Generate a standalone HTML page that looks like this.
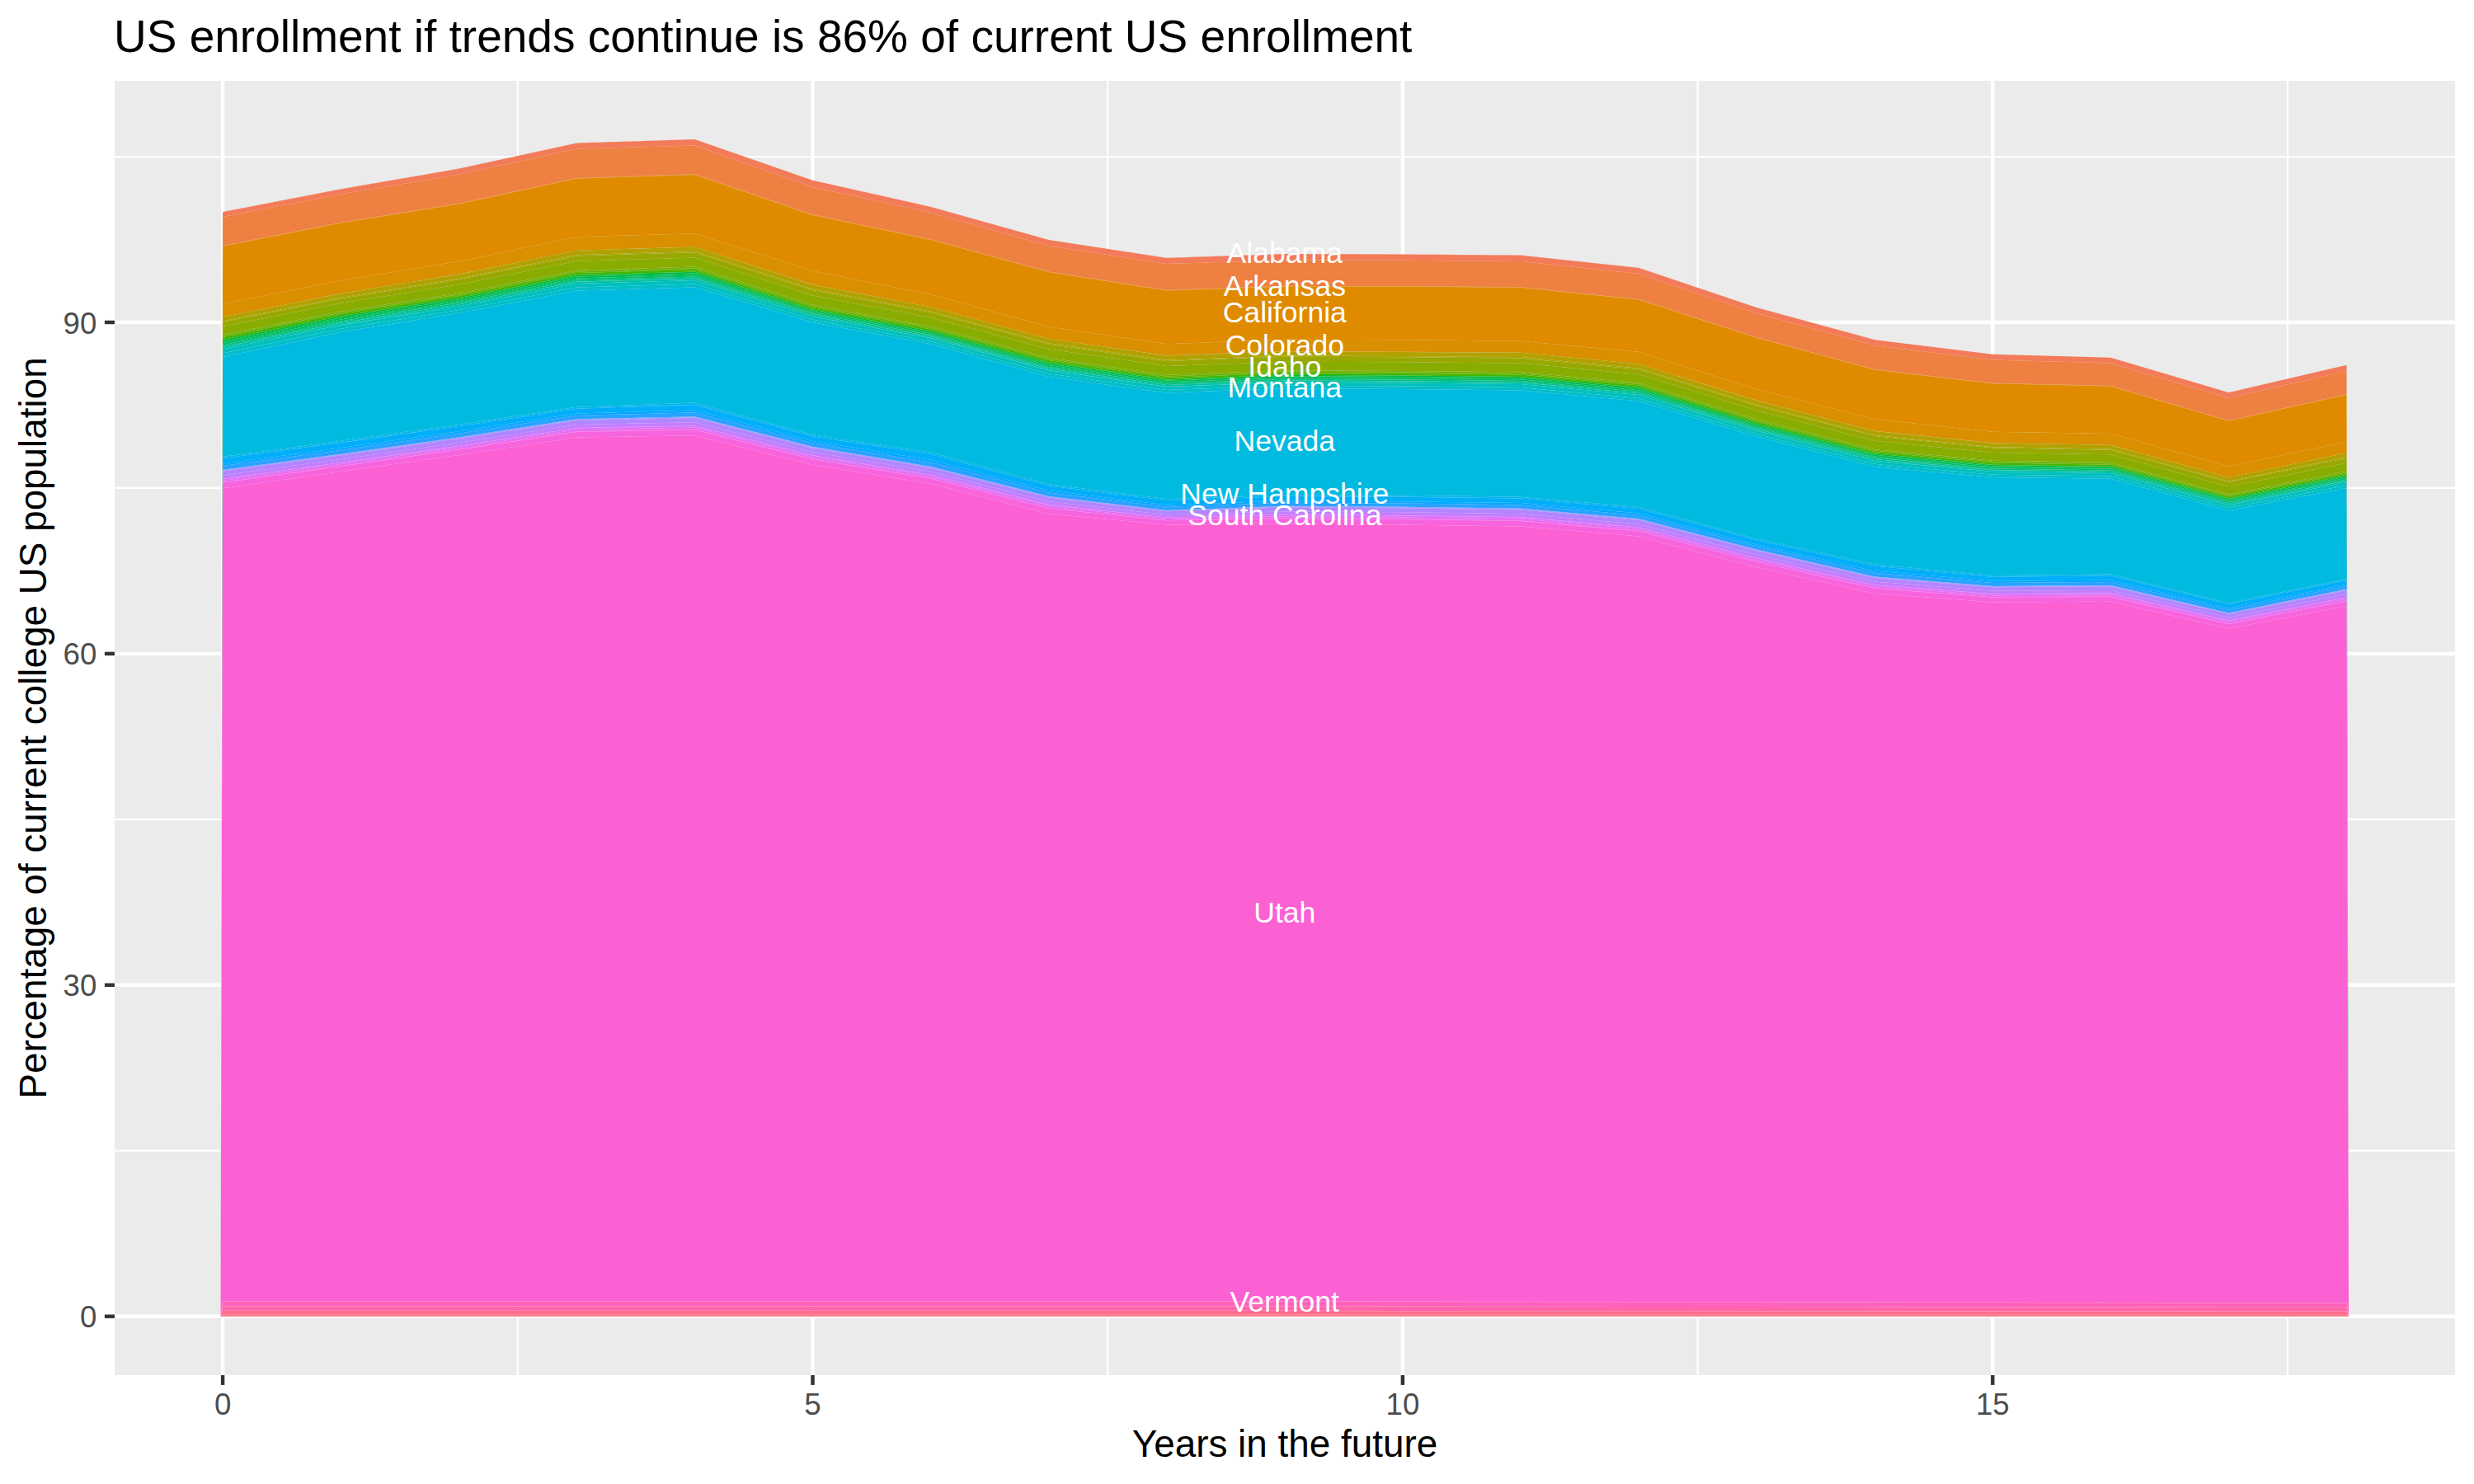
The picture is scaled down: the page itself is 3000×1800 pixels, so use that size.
<!DOCTYPE html>
<html lang="en"><head><meta charset="utf-8"><title>US enrollment if trends continue</title>
<style>
html,body{margin:0;padding:0;background:#fff;}
body{width:3000px;height:1800px;overflow:hidden;}
svg{display:block;}
text{font-family:"Liberation Sans",Arial,Helvetica,sans-serif;}
.tk{font-size:36.67px;fill:#4D4D4D;}
.ax{font-size:45.83px;fill:#000;}
.ti{font-size:55px;fill:#000;}
.lb{font-size:35.57px;fill:#fff;text-anchor:middle;}
</style></head><body>
<svg width="3000" height="1800" viewBox="0 0 3000 1800">
<rect x="0" y="0" width="3000" height="1800" fill="#FFFFFF"/>
<rect x="139" y="98" width="2838" height="1570" fill="#EBEBEB"/>
<g stroke="#FFFFFF" fill="none">
<line x1="139" x2="2977" y1="1395.75" y2="1395.75" stroke-width="2.22"/>
<line x1="139" x2="2977" y1="993.84" y2="993.84" stroke-width="2.22"/>
<line x1="139" x2="2977" y1="591.93" y2="591.93" stroke-width="2.22"/>
<line x1="139" x2="2977" y1="190.02" y2="190.02" stroke-width="2.22"/>
<line y1="98" y2="1668" x1="627.80" x2="627.80" stroke-width="2.22"/>
<line y1="98" y2="1668" x1="1343.20" x2="1343.20" stroke-width="2.22"/>
<line y1="98" y2="1668" x1="2058.60" x2="2058.60" stroke-width="2.22"/>
<line y1="98" y2="1668" x1="2774.00" x2="2774.00" stroke-width="2.22"/>
<line x1="139" x2="2977" y1="1596.70" y2="1596.70" stroke-width="4.45"/>
<line x1="139" x2="2977" y1="1194.79" y2="1194.79" stroke-width="4.45"/>
<line x1="139" x2="2977" y1="792.88" y2="792.88" stroke-width="4.45"/>
<line x1="139" x2="2977" y1="390.97" y2="390.97" stroke-width="4.45"/>
<line y1="98" y2="1668" x1="270.10" x2="270.10" stroke-width="4.45"/>
<line y1="98" y2="1668" x1="985.50" x2="985.50" stroke-width="4.45"/>
<line y1="98" y2="1668" x1="1700.90" x2="1700.90" stroke-width="4.45"/>
<line y1="98" y2="1668" x1="2416.30" x2="2416.30" stroke-width="4.45"/>
</g>
<g stroke="none">
<polygon fill="#F8766D" points="267.5,1596.7 270.1,257.0 413.2,229.3 556.3,204.6 699.3,173.5 842.4,169.0 985.5,218.7 1128.6,250.8 1271.7,290.9 1414.7,312.8 1557.8,308.0 1700.9,308.4 1844.0,309.6 1987.1,324.8 2130.1,373.0 2273.2,412.1 2416.3,429.7 2559.4,433.7 2702.5,476.1 2845.5,442.7 2848.1,1596.7 2845.5,442.8 2702.5,476.2 2559.4,433.8 2416.3,429.8 2273.2,412.2 2130.1,373.1 1987.1,324.9 1844.0,309.7 1700.9,308.5 1557.8,308.1 1414.7,312.9 1271.7,291.0 1128.6,250.9 985.5,218.8 842.4,169.1 699.3,173.6 556.3,204.7 413.2,229.4 270.1,257.1"/>
<polygon fill="#F37B59" points="267.5,1596.7 270.1,257.1 413.2,229.4 556.3,204.7 699.3,173.6 842.4,169.1 985.5,218.8 1128.6,250.9 1271.7,291.0 1414.7,312.9 1557.8,308.1 1700.9,308.5 1844.0,309.7 1987.1,324.9 2130.1,373.1 2273.2,412.2 2416.3,429.8 2559.4,433.8 2702.5,476.2 2845.5,442.8 2848.1,1596.7 2845.5,450.0 2702.5,482.8 2559.4,440.6 2416.3,436.4 2273.2,419.1 2130.1,380.0 1987.1,331.9 1844.0,317.0 1700.9,315.8 1557.8,315.6 1414.7,320.0 1271.7,298.2 1128.6,258.0 985.5,226.9 842.4,176.5 699.3,180.6 556.3,211.7 413.2,235.5 270.1,263.0"/>
<polygon fill="#EE8042" points="267.5,1596.7 270.1,263.0 413.2,235.5 556.3,211.7 699.3,180.6 842.4,176.5 985.5,226.9 1128.6,258.0 1271.7,298.2 1414.7,320.0 1557.8,315.6 1700.9,315.8 1844.0,317.0 1987.1,331.9 2130.1,380.0 2273.2,419.1 2416.3,436.4 2559.4,440.6 2702.5,482.8 2845.5,450.0 2848.1,1596.7 2845.5,478.3 2702.5,510.2 2559.4,468.0 2416.3,464.7 2273.2,448.0 2130.1,409.2 1987.1,362.9 1844.0,348.3 1700.9,347.1 1557.8,346.9 1414.7,352.0 1271.7,329.4 1128.6,290.3 985.5,260.3 842.4,211.3 699.3,215.9 556.3,246.8 413.2,270.0 270.1,298.1"/>
<polygon fill="#E7851E" points="267.5,1596.7 270.1,298.1 413.2,270.0 556.3,246.8 699.3,215.9 842.4,211.3 985.5,260.3 1128.6,290.3 1271.7,329.4 1414.7,352.0 1557.8,346.9 1700.9,347.1 1844.0,348.3 1987.1,362.9 2130.1,409.2 2273.2,448.0 2416.3,464.7 2559.4,468.0 2702.5,510.2 2845.5,478.3 2848.1,1596.7 2845.5,478.8 2702.5,510.7 2559.4,468.5 2416.3,465.2 2273.2,448.5 2130.1,409.7 1987.1,363.4 1844.0,348.8 1700.9,347.6 1557.8,347.4 1414.7,352.6 1271.7,329.9 1128.6,290.9 985.5,260.9 842.4,211.9 699.3,216.5 556.3,247.4 413.2,270.6 270.1,298.7"/>
<polygon fill="#E08A00" points="267.5,1596.7 270.1,298.7 413.2,270.6 556.3,247.4 699.3,216.5 842.4,211.9 985.5,260.9 1128.6,290.9 1271.7,329.9 1414.7,352.6 1557.8,347.4 1700.9,347.6 1844.0,348.8 1987.1,363.4 2130.1,409.7 2273.2,448.5 2416.3,465.2 2559.4,468.5 2702.5,510.7 2845.5,478.8 2848.1,1596.7 2845.5,535.8 2702.5,565.5 2559.4,526.1 2416.3,523.7 2273.2,508.5 2130.1,472.1 1987.1,426.8 1844.0,413.7 1700.9,412.3 1557.8,411.7 1414.7,417.3 1271.7,396.3 1128.6,357.0 985.5,328.6 842.4,283.3 699.3,287.3 556.3,317.0 413.2,340.2 270.1,368.5"/>
<polygon fill="#D98F00" points="267.5,1596.7 270.1,368.5 413.2,340.2 556.3,317.0 699.3,287.3 842.4,283.3 985.5,328.6 1128.6,357.0 1271.7,396.3 1414.7,417.3 1557.8,411.7 1700.9,412.3 1844.0,413.7 1987.1,426.8 2130.1,472.1 2273.2,508.5 2416.3,523.7 2559.4,526.1 2702.5,565.5 2845.5,535.8 2848.1,1596.7 2845.5,549.5 2702.5,578.9 2559.4,539.8 2416.3,537.3 2273.2,522.8 2130.1,485.8 1987.1,441.4 1844.0,427.7 1700.9,426.8 1557.8,426.2 1414.7,431.3 1271.7,410.9 1128.6,372.4 985.5,345.2 842.4,299.4 699.3,303.7 556.3,332.6 413.2,356.1 270.1,384.4"/>
<polygon fill="#D09400" points="267.5,1596.7 270.1,384.4 413.2,356.1 556.3,332.6 699.3,303.7 842.4,299.4 985.5,345.2 1128.6,372.4 1271.7,410.9 1414.7,431.3 1557.8,426.2 1700.9,426.8 1844.0,427.7 1987.1,441.4 2130.1,485.8 2273.2,522.8 2416.3,537.3 2559.4,539.8 2702.5,578.9 2845.5,549.5 2848.1,1596.7 2845.5,549.5 2702.5,578.9 2559.4,539.8 2416.3,537.3 2273.2,522.8 2130.1,485.8 1987.1,441.4 1844.0,427.7 1700.9,426.8 1557.8,426.2 1414.7,431.3 1271.7,410.9 1128.6,372.4 985.5,345.3 842.4,299.4 699.3,303.7 556.3,332.6 413.2,356.1 270.1,384.4"/>
<polygon fill="#C79800" points="267.5,1596.7 270.1,384.4 413.2,356.1 556.3,332.6 699.3,303.7 842.4,299.4 985.5,345.3 1128.6,372.4 1271.7,410.9 1414.7,431.3 1557.8,426.2 1700.9,426.8 1844.0,427.7 1987.1,441.4 2130.1,485.8 2273.2,522.8 2416.3,537.3 2559.4,539.8 2702.5,578.9 2845.5,549.5 2848.1,1596.7 2845.5,549.6 2702.5,579.0 2559.4,539.9 2416.3,537.4 2273.2,522.9 2130.1,485.9 1987.1,441.5 1844.0,427.8 1700.9,426.9 1557.8,426.3 1414.7,431.4 1271.7,411.0 1128.6,372.5 985.5,345.3 842.4,299.5 699.3,303.8 556.3,332.7 413.2,356.2 270.1,384.5"/>
<polygon fill="#BD9D00" points="267.5,1596.7 270.1,384.5 413.2,356.2 556.3,332.7 699.3,303.8 842.4,299.5 985.5,345.3 1128.6,372.5 1271.7,411.0 1414.7,431.4 1557.8,426.3 1700.9,426.9 1844.0,427.8 1987.1,441.5 2130.1,485.9 2273.2,522.9 2416.3,537.4 2559.4,539.9 2702.5,579.0 2845.5,549.6 2848.1,1596.7 2845.5,549.6 2702.5,579.0 2559.4,539.9 2416.3,537.4 2273.2,522.9 2130.1,485.9 1987.1,441.5 1844.0,427.8 1700.9,426.9 1557.8,426.3 1414.7,431.4 1271.7,411.0 1128.6,372.5 985.5,345.4 842.4,299.5 699.3,303.8 556.3,332.7 413.2,356.2 270.1,384.5"/>
<polygon fill="#B2A100" points="267.5,1596.7 270.1,384.5 413.2,356.2 556.3,332.7 699.3,303.8 842.4,299.5 985.5,345.4 1128.6,372.5 1271.7,411.0 1414.7,431.4 1557.8,426.3 1700.9,426.9 1844.0,427.8 1987.1,441.5 2130.1,485.9 2273.2,522.9 2416.3,537.4 2559.4,539.9 2702.5,579.0 2845.5,549.6 2848.1,1596.7 2845.5,554.6 2702.5,583.7 2559.4,544.6 2416.3,542.2 2273.2,527.9 2130.1,491.0 1987.1,446.7 1844.0,433.1 1700.9,432.1 1557.8,431.5 1414.7,436.7 1271.7,416.2 1128.6,377.8 985.5,350.8 842.4,304.9 699.3,309.2 556.3,337.9 413.2,361.1 270.1,389.4"/>
<polygon fill="#A5A500" points="267.5,1596.7 270.1,389.4 413.2,361.1 556.3,337.9 699.3,309.2 842.4,304.9 985.5,350.8 1128.6,377.8 1271.7,416.2 1414.7,436.7 1557.8,431.5 1700.9,432.1 1844.0,433.1 1987.1,446.7 2130.1,491.0 2273.2,527.9 2416.3,542.2 2559.4,544.6 2702.5,583.7 2845.5,554.6 2848.1,1596.7 2845.5,555.7 2702.5,584.8 2559.4,545.7 2416.3,543.3 2273.2,529.1 2130.1,492.2 1987.1,447.9 1844.0,434.4 1700.9,433.3 1557.8,432.7 1414.7,437.9 1271.7,417.4 1128.6,379.1 985.5,352.1 842.4,306.2 699.3,310.5 556.3,339.1 413.2,362.2 270.1,390.5"/>
<polygon fill="#98A800" points="267.5,1596.7 270.1,390.5 413.2,362.2 556.3,339.1 699.3,310.5 842.4,306.2 985.5,352.1 1128.6,379.1 1271.7,417.4 1414.7,437.9 1557.8,432.7 1700.9,433.3 1844.0,434.4 1987.1,447.9 2130.1,492.2 2273.2,529.1 2416.3,543.3 2559.4,545.7 2702.5,584.8 2845.5,555.7 2848.1,1596.7 2845.5,561.5 2702.5,590.2 2559.4,551.2 2416.3,548.9 2273.2,534.8 2130.1,498.0 1987.1,453.9 1844.0,440.5 1700.9,439.3 1557.8,438.7 1414.7,444.0 1271.7,423.4 1128.6,385.2 985.5,358.5 842.4,312.5 699.3,316.8 556.3,345.2 413.2,367.8 270.1,396.1"/>
<polygon fill="#89AC00" points="267.5,1596.7 270.1,396.1 413.2,367.8 556.3,345.2 699.3,316.8 842.4,312.5 985.5,358.5 1128.6,385.2 1271.7,423.4 1414.7,444.0 1557.8,438.7 1700.9,439.3 1844.0,440.5 1987.1,453.9 2130.1,498.0 2273.2,534.8 2416.3,548.9 2559.4,551.2 2702.5,590.2 2845.5,561.5 2848.1,1596.7 2845.5,571.6 2702.5,599.7 2559.4,560.8 2416.3,558.7 2273.2,545.0 2130.1,508.3 1987.1,464.5 1844.0,451.3 1700.9,449.9 1557.8,449.3 1414.7,454.8 1271.7,434.0 1128.6,396.0 985.5,369.7 842.4,323.6 699.3,327.8 556.3,355.7 413.2,377.8 270.1,406.1"/>
<polygon fill="#77AF00" points="267.5,1596.7 270.1,406.1 413.2,377.8 556.3,355.7 699.3,327.8 842.4,323.6 985.5,369.7 1128.6,396.0 1271.7,434.0 1414.7,454.8 1557.8,449.3 1700.9,449.9 1844.0,451.3 1987.1,464.5 2130.1,508.3 2273.2,545.0 2416.3,558.7 2559.4,560.8 2702.5,599.7 2845.5,571.6 2848.1,1596.7 2845.5,573.1 2702.5,601.1 2559.4,562.3 2416.3,560.1 2273.2,546.5 2130.1,509.9 1987.1,466.0 1844.0,452.9 1700.9,451.4 1557.8,450.8 1414.7,456.4 1271.7,435.5 1128.6,397.6 985.5,371.3 842.4,325.3 699.3,329.5 556.3,357.3 413.2,379.2 270.1,407.5"/>
<polygon fill="#62B200" points="267.5,1596.7 270.1,407.5 413.2,379.2 556.3,357.3 699.3,329.5 842.4,325.3 985.5,371.3 1128.6,397.6 1271.7,435.5 1414.7,456.4 1557.8,450.8 1700.9,451.4 1844.0,452.9 1987.1,466.0 2130.1,509.9 2273.2,546.5 2416.3,560.1 2559.4,562.3 2702.5,601.1 2845.5,573.1 2848.1,1596.7 2845.5,574.6 2702.5,602.5 2559.4,563.7 2416.3,561.6 2273.2,548.0 2130.1,511.4 1987.1,467.6 1844.0,454.5 1700.9,453.0 1557.8,452.4 1414.7,458.0 1271.7,437.1 1128.6,399.2 985.5,373.0 842.4,326.9 699.3,331.1 556.3,358.9 413.2,380.7 270.1,409.0"/>
<polygon fill="#45B500" points="267.5,1596.7 270.1,409.0 413.2,380.7 556.3,358.9 699.3,331.1 842.4,326.9 985.5,373.0 1128.6,399.2 1271.7,437.1 1414.7,458.0 1557.8,452.4 1700.9,453.0 1844.0,454.5 1987.1,467.6 2130.1,511.4 2273.2,548.0 2416.3,561.6 2559.4,563.7 2702.5,602.5 2845.5,574.6 2848.1,1596.7 2845.5,576.8 2702.5,604.6 2559.4,565.8 2416.3,563.8 2273.2,550.3 2130.1,513.7 1987.1,470.0 1844.0,456.9 1700.9,455.4 1557.8,454.8 1414.7,460.3 1271.7,439.6 1128.6,401.5 985.5,375.3 842.4,329.6 699.3,333.8 556.3,361.5 413.2,383.5 270.1,412.0"/>
<polygon fill="#00B709" points="267.5,1596.7 270.1,412.0 413.2,383.5 556.3,361.5 699.3,333.8 842.4,329.6 985.5,375.3 1128.6,401.5 1271.7,439.6 1414.7,460.3 1557.8,454.8 1700.9,455.4 1844.0,456.9 1987.1,470.0 2130.1,513.7 2273.2,550.3 2416.3,563.8 2559.4,565.8 2702.5,604.6 2845.5,576.8 2848.1,1596.7 2845.5,576.9 2702.5,604.7 2559.4,565.9 2416.3,563.9 2273.2,550.4 2130.1,513.8 1987.1,470.1 1844.0,457.0 1700.9,455.5 1557.8,454.8 1414.7,460.4 1271.7,439.7 1128.6,401.6 985.5,375.4 842.4,329.7 699.3,333.9 556.3,361.6 413.2,383.6 270.1,412.1"/>
<polygon fill="#00BA38" points="267.5,1596.7 270.1,412.1 413.2,383.6 556.3,361.6 699.3,333.9 842.4,329.7 985.5,375.4 1128.6,401.6 1271.7,439.7 1414.7,460.4 1557.8,454.8 1700.9,455.5 1844.0,457.0 1987.1,470.1 2130.1,513.8 2273.2,550.4 2416.3,563.9 2559.4,565.9 2702.5,604.7 2845.5,576.9 2848.1,1596.7 2845.5,578.2 2702.5,606.0 2559.4,567.2 2416.3,565.2 2273.2,551.8 2130.1,515.2 1987.1,471.5 1844.0,458.4 1700.9,456.9 1557.8,456.3 1414.7,461.8 1271.7,441.2 1128.6,403.0 985.5,376.8 842.4,331.4 699.3,335.5 556.3,363.2 413.2,385.3 270.1,414.0"/>
<polygon fill="#00BC51" points="267.5,1596.7 270.1,414.0 413.2,385.3 556.3,363.2 699.3,335.5 842.4,331.4 985.5,376.8 1128.6,403.0 1271.7,441.2 1414.7,461.8 1557.8,456.3 1700.9,456.9 1844.0,458.4 1987.1,471.5 2130.1,515.2 2273.2,551.8 2416.3,565.2 2559.4,567.2 2702.5,606.0 2845.5,578.2 2848.1,1596.7 2845.5,579.8 2702.5,607.6 2559.4,568.8 2416.3,566.8 2273.2,553.5 2130.1,516.9 1987.1,473.3 1844.0,460.2 1700.9,458.7 1557.8,458.1 1414.7,463.6 1271.7,443.1 1128.6,404.7 985.5,378.5 842.4,333.5 699.3,337.5 556.3,365.2 413.2,387.4 270.1,416.3"/>
<polygon fill="#00BD65" points="267.5,1596.7 270.1,416.3 413.2,387.4 556.3,365.2 699.3,337.5 842.4,333.5 985.5,378.5 1128.6,404.7 1271.7,443.1 1414.7,463.6 1557.8,458.1 1700.9,458.7 1844.0,460.2 1987.1,473.3 2130.1,516.9 2273.2,553.5 2416.3,566.8 2559.4,568.8 2702.5,607.6 2845.5,579.8 2848.1,1596.7 2845.5,581.4 2702.5,609.1 2559.4,570.4 2416.3,568.4 2273.2,555.1 2130.1,518.5 1987.1,475.0 1844.0,461.9 1700.9,460.5 1557.8,459.7 1414.7,465.2 1271.7,444.9 1128.6,406.3 985.5,380.1 842.4,335.4 699.3,339.5 556.3,367.1 413.2,389.4 270.1,418.4"/>
<polygon fill="#00BF77" points="267.5,1596.7 270.1,418.4 413.2,389.4 556.3,367.1 699.3,339.5 842.4,335.4 985.5,380.1 1128.6,406.3 1271.7,444.9 1414.7,465.2 1557.8,459.7 1700.9,460.5 1844.0,461.9 1987.1,475.0 2130.1,518.5 2273.2,555.1 2416.3,568.4 2559.4,570.4 2702.5,609.1 2845.5,581.4 2848.1,1596.7 2845.5,581.5 2702.5,609.1 2559.4,570.5 2416.3,568.5 2273.2,555.2 2130.1,518.6 1987.1,475.1 1844.0,462.0 1700.9,460.5 1557.8,459.8 1414.7,465.3 1271.7,445.0 1128.6,406.4 985.5,380.2 842.4,335.5 699.3,339.6 556.3,367.2 413.2,389.5 270.1,418.5"/>
<polygon fill="#00C087" points="267.5,1596.7 270.1,418.5 413.2,389.5 556.3,367.2 699.3,339.6 842.4,335.5 985.5,380.2 1128.6,406.4 1271.7,445.0 1414.7,465.3 1557.8,459.8 1700.9,460.5 1844.0,462.0 1987.1,475.1 2130.1,518.6 2273.2,555.2 2416.3,568.5 2559.4,570.5 2702.5,609.1 2845.5,581.5 2848.1,1596.7 2845.5,583.1 2702.5,610.7 2559.4,572.1 2416.3,570.1 2273.2,556.9 2130.1,520.3 1987.1,476.9 1844.0,463.8 1700.9,462.3 1557.8,461.6 1414.7,467.1 1271.7,446.8 1128.6,408.1 985.5,381.9 842.4,337.6 699.3,341.6 556.3,369.2 413.2,391.6 270.1,420.8"/>
<polygon fill="#00C096" points="267.5,1596.7 270.1,420.8 413.2,391.6 556.3,369.2 699.3,341.6 842.4,337.6 985.5,381.9 1128.6,408.1 1271.7,446.8 1414.7,467.1 1557.8,461.6 1700.9,462.3 1844.0,463.8 1987.1,476.9 2130.1,520.3 2273.2,556.9 2416.3,570.1 2559.4,572.1 2702.5,610.7 2845.5,583.1 2848.1,1596.7 2845.5,583.2 2702.5,610.8 2559.4,572.1 2416.3,570.2 2273.2,557.0 2130.1,520.4 1987.1,477.0 1844.0,463.9 1700.9,462.4 1557.8,461.7 1414.7,467.1 1271.7,446.9 1128.6,408.2 985.5,382.0 842.4,337.7 699.3,341.7 556.3,369.3 413.2,391.7 270.1,420.9"/>
<polygon fill="#00C1A4" points="267.5,1596.7 270.1,420.9 413.2,391.7 556.3,369.3 699.3,341.7 842.4,337.7 985.5,382.0 1128.6,408.2 1271.7,446.9 1414.7,467.1 1557.8,461.7 1700.9,462.4 1844.0,463.9 1987.1,477.0 2130.1,520.4 2273.2,557.0 2416.3,570.2 2559.4,572.1 2702.5,610.8 2845.5,583.2 2848.1,1596.7 2845.5,585.1 2702.5,612.6 2559.4,574.0 2416.3,572.1 2273.2,558.9 2130.1,522.3 1987.1,479.0 1844.0,465.9 1700.9,464.5 1557.8,463.7 1414.7,469.1 1271.7,449.1 1128.6,410.1 985.5,383.9 842.4,340.0 699.3,344.0 556.3,371.5 413.2,394.1 270.1,423.5"/>
<polygon fill="#00C0B2" points="267.5,1596.7 270.1,423.5 413.2,394.1 556.3,371.5 699.3,344.0 842.4,340.0 985.5,383.9 1128.6,410.1 1271.7,449.1 1414.7,469.1 1557.8,463.7 1700.9,464.5 1844.0,465.9 1987.1,479.0 2130.1,522.3 2273.2,558.9 2416.3,572.1 2559.4,574.0 2702.5,612.6 2845.5,585.1 2848.1,1596.7 2845.5,585.1 2702.5,612.7 2559.4,574.1 2416.3,572.1 2273.2,559.0 2130.1,522.4 1987.1,479.1 1844.0,466.0 1700.9,464.6 1557.8,463.8 1414.7,469.2 1271.7,449.2 1128.6,410.2 985.5,384.0 842.4,340.1 699.3,344.1 556.3,371.6 413.2,394.2 270.1,423.6"/>
<polygon fill="#00C0BE" points="267.5,1596.7 270.1,423.6 413.2,394.2 556.3,371.6 699.3,344.1 842.4,340.1 985.5,384.0 1128.6,410.2 1271.7,449.2 1414.7,469.2 1557.8,463.8 1700.9,464.6 1844.0,466.0 1987.1,479.1 2130.1,522.4 2273.2,559.0 2416.3,572.1 2559.4,574.1 2702.5,612.7 2845.5,585.1 2848.1,1596.7 2845.5,588.7 2702.5,616.1 2559.4,577.6 2416.3,575.7 2273.2,562.8 2130.1,526.2 1987.1,483.0 1844.0,469.9 1700.9,468.5 1557.8,467.7 1414.7,473.0 1271.7,453.3 1128.6,414.0 985.5,387.8 842.4,344.6 699.3,348.5 556.3,376.0 413.2,398.8 270.1,428.6"/>
<polygon fill="#00BECA" points="267.5,1596.7 270.1,428.6 413.2,398.8 556.3,376.0 699.3,348.5 842.4,344.6 985.5,387.8 1128.6,414.0 1271.7,453.3 1414.7,473.0 1557.8,467.7 1700.9,468.5 1844.0,469.9 1987.1,483.0 2130.1,526.2 2273.2,562.8 2416.3,575.7 2559.4,577.6 2702.5,616.1 2845.5,588.7 2848.1,1596.7 2845.5,591.9 2702.5,619.2 2559.4,580.7 2416.3,578.9 2273.2,566.1 2130.1,529.5 1987.1,486.5 1844.0,473.4 1700.9,472.0 1557.8,471.1 1414.7,476.4 1271.7,456.9 1128.6,417.3 985.5,391.1 842.4,348.6 699.3,352.4 556.3,379.8 413.2,402.8 270.1,432.9"/>
<polygon fill="#00BCD6" points="267.5,1596.7 270.1,432.9 413.2,402.8 556.3,379.8 699.3,352.4 842.4,348.6 985.5,391.1 1128.6,417.3 1271.7,456.9 1414.7,476.4 1557.8,471.1 1700.9,472.0 1844.0,473.4 1987.1,486.5 2130.1,529.5 2273.2,566.1 2416.3,578.9 2559.4,580.7 2702.5,619.2 2845.5,591.9 2848.1,1596.7 2845.5,591.9 2702.5,619.2 2559.4,580.7 2416.3,578.9 2273.2,566.1 2130.1,529.5 1987.1,486.5 1844.0,473.4 1700.9,472.0 1557.8,471.1 1414.7,476.4 1271.7,456.9 1128.6,417.3 985.5,391.1 842.4,348.6 699.3,352.4 556.3,379.8 413.2,402.8 270.1,433.0"/>
<polygon fill="#00BAE0" points="267.5,1596.7 270.1,433.0 413.2,402.8 556.3,379.8 699.3,352.4 842.4,348.6 985.5,391.1 1128.6,417.3 1271.7,456.9 1414.7,476.4 1557.8,471.1 1700.9,472.0 1844.0,473.4 1987.1,486.5 2130.1,529.5 2273.2,566.1 2416.3,578.9 2559.4,580.7 2702.5,619.2 2845.5,591.9 2848.1,1596.7 2845.5,702.0 2702.5,731.4 2559.4,696.5 2416.3,698.0 2273.2,684.6 2130.1,653.6 1987.1,615.0 1844.0,602.7 1700.9,600.8 1557.8,600.3 1414.7,605.3 1271.7,587.3 1128.6,548.7 985.5,527.3 842.4,488.6 699.3,493.8 556.3,514.9 413.2,534.7 270.1,553.9"/>
<polygon fill="#00B7E9" points="267.5,1596.7 270.1,553.9 413.2,534.7 556.3,514.9 699.3,493.8 842.4,488.6 985.5,527.3 1128.6,548.7 1271.7,587.3 1414.7,605.3 1557.8,600.3 1700.9,600.8 1844.0,602.7 1987.1,615.0 2130.1,653.6 2273.2,684.6 2416.3,698.0 2559.4,696.5 2702.5,731.4 2845.5,702.0 2848.1,1596.7 2845.5,703.6 2702.5,733.0 2559.4,698.2 2416.3,699.7 2273.2,686.5 2130.1,655.3 1987.1,616.9 1844.0,604.5 1700.9,602.6 1557.8,602.0 1414.7,607.1 1271.7,589.2 1128.6,550.9 985.5,529.2 842.4,490.8 699.3,495.7 556.3,516.9 413.2,536.8 270.1,556.0"/>
<polygon fill="#00B3F2" points="267.5,1596.7 270.1,556.0 413.2,536.8 556.3,516.9 699.3,495.7 842.4,490.8 985.5,529.2 1128.6,550.9 1271.7,589.2 1414.7,607.1 1557.8,602.0 1700.9,602.6 1844.0,604.5 1987.1,616.9 2130.1,655.3 2273.2,686.5 2416.3,699.7 2559.4,698.2 2702.5,733.0 2845.5,703.6 2848.1,1596.7 2845.5,703.7 2702.5,733.0 2559.4,698.3 2416.3,699.7 2273.2,686.6 2130.1,655.3 1987.1,616.9 1844.0,604.6 1700.9,602.7 1557.8,602.1 1414.7,607.1 1271.7,589.3 1128.6,551.0 985.5,529.3 842.4,490.9 699.3,495.8 556.3,517.0 413.2,536.9 270.1,556.1"/>
<polygon fill="#00AEF9" points="267.5,1596.7 270.1,556.1 413.2,536.9 556.3,517.0 699.3,495.8 842.4,490.9 985.5,529.3 1128.6,551.0 1271.7,589.3 1414.7,607.1 1557.8,602.1 1700.9,602.7 1844.0,604.6 1987.1,616.9 2130.1,655.3 2273.2,686.6 2416.3,699.7 2559.4,698.3 2702.5,733.0 2845.5,703.7 2848.1,1596.7 2845.5,708.7 2702.5,737.8 2559.4,703.7 2416.3,704.8 2273.2,692.4 2130.1,660.4 1987.1,622.6 1844.0,610.1 1700.9,608.2 1557.8,607.5 1414.7,612.5 1271.7,595.0 1128.6,557.8 985.5,535.0 842.4,497.4 699.3,501.5 556.3,523.2 413.2,543.2 270.1,562.4"/>
<polygon fill="#00A9FF" points="267.5,1596.7 270.1,562.4 413.2,543.2 556.3,523.2 699.3,501.5 842.4,497.4 985.5,535.0 1128.6,557.8 1271.7,595.0 1414.7,612.5 1557.8,607.5 1700.9,608.2 1844.0,610.1 1987.1,622.6 2130.1,660.4 2273.2,692.4 2416.3,704.8 2559.4,703.7 2702.5,737.8 2845.5,708.7 2848.1,1596.7 2845.5,710.8 2702.5,739.8 2559.4,706.0 2416.3,707.0 2273.2,695.0 2130.1,662.6 1987.1,625.0 1844.0,612.5 1700.9,610.5 1557.8,609.8 1414.7,614.8 1271.7,597.5 1128.6,560.7 985.5,537.5 842.4,500.3 699.3,504.0 556.3,525.8 413.2,545.9 270.1,565.1"/>
<polygon fill="#29A3FF" points="267.5,1596.7 270.1,565.1 413.2,545.9 556.3,525.8 699.3,504.0 842.4,500.3 985.5,537.5 1128.6,560.7 1271.7,597.5 1414.7,614.8 1557.8,609.8 1700.9,610.5 1844.0,612.5 1987.1,625.0 2130.1,662.6 2273.2,695.0 2416.3,707.0 2559.4,706.0 2702.5,739.8 2845.5,710.8 2848.1,1596.7 2845.5,714.6 2702.5,743.4 2559.4,710.0 2416.3,710.9 2273.2,699.4 2130.1,666.5 1987.1,629.3 1844.0,616.7 1700.9,614.7 1557.8,613.8 1414.7,618.9 1271.7,601.9 1128.6,565.9 985.5,541.8 842.4,505.3 699.3,508.3 556.3,530.5 413.2,550.7 270.1,569.9"/>
<polygon fill="#619CFF" points="267.5,1596.7 270.1,569.9 413.2,550.7 556.3,530.5 699.3,508.3 842.4,505.3 985.5,541.8 1128.6,565.9 1271.7,601.9 1414.7,618.9 1557.8,613.8 1700.9,614.7 1844.0,616.7 1987.1,629.3 2130.1,666.5 2273.2,699.4 2416.3,710.9 2559.4,710.0 2702.5,743.4 2845.5,714.6 2848.1,1596.7 2845.5,714.7 2702.5,743.5 2559.4,710.1 2416.3,711.0 2273.2,699.5 2130.1,666.6 1987.1,629.4 1844.0,616.8 1700.9,614.8 1557.8,613.9 1414.7,619.0 1271.7,602.0 1128.6,566.0 985.5,541.9 842.4,505.4 699.3,508.4 556.3,530.6 413.2,550.8 270.1,570.0"/>
<polygon fill="#8295FF" points="267.5,1596.7 270.1,570.0 413.2,550.8 556.3,530.6 699.3,508.4 842.4,505.4 985.5,541.9 1128.6,566.0 1271.7,602.0 1414.7,619.0 1557.8,613.9 1700.9,614.8 1844.0,616.8 1987.1,629.4 2130.1,666.6 2273.2,699.5 2416.3,711.0 2559.4,710.1 2702.5,743.5 2845.5,714.7 2848.1,1596.7 2845.5,715.4 2702.5,744.2 2559.4,710.8 2416.3,711.7 2273.2,700.2 2130.1,667.3 1987.1,630.1 1844.0,617.6 1700.9,615.6 1557.8,614.6 1414.7,619.6 1271.7,602.7 1128.6,566.7 985.5,542.7 842.4,506.2 699.3,509.2 556.3,531.3 413.2,551.5 270.1,570.8"/>
<polygon fill="#9C8DFF" points="267.5,1596.7 270.1,570.8 413.2,551.5 556.3,531.3 699.3,509.2 842.4,506.2 985.5,542.7 1128.6,566.7 1271.7,602.7 1414.7,619.6 1557.8,614.6 1700.9,615.6 1844.0,617.6 1987.1,630.1 2130.1,667.3 2273.2,700.2 2416.3,711.7 2559.4,710.8 2702.5,744.2 2845.5,715.4 2848.1,1596.7 2845.5,716.1 2702.5,744.8 2559.4,711.5 2416.3,712.3 2273.2,700.9 2130.1,668.1 1987.1,630.9 1844.0,618.3 1700.9,616.3 1557.8,615.4 1414.7,620.2 1271.7,603.5 1128.6,567.4 985.5,543.4 842.4,507.0 699.3,509.9 556.3,532.1 413.2,552.3 270.1,571.6"/>
<polygon fill="#B186FF" points="267.5,1596.7 270.1,571.6 413.2,552.3 556.3,532.1 699.3,509.9 842.4,507.0 985.5,543.4 1128.6,567.4 1271.7,603.5 1414.7,620.2 1557.8,615.4 1700.9,616.3 1844.0,618.3 1987.1,630.9 2130.1,668.1 2273.2,700.9 2416.3,712.3 2559.4,711.5 2702.5,744.8 2845.5,716.1 2848.1,1596.7 2845.5,720.7 2702.5,749.1 2559.4,715.9 2416.3,716.7 2273.2,705.5 2130.1,673.0 1987.1,635.7 1844.0,623.2 1700.9,621.2 1557.8,620.3 1414.7,624.2 1271.7,608.3 1128.6,572.1 985.5,548.3 842.4,512.2 699.3,515.0 556.3,536.9 413.2,557.1 270.1,576.6"/>
<polygon fill="#C37EFF" points="267.5,1596.7 270.1,576.6 413.2,557.1 556.3,536.9 699.3,515.0 842.4,512.2 985.5,548.3 1128.6,572.1 1271.7,608.3 1414.7,624.2 1557.8,620.3 1700.9,621.2 1844.0,623.2 1987.1,635.7 2130.1,673.0 2273.2,705.5 2416.3,716.7 2559.4,715.9 2702.5,749.1 2845.5,720.7 2848.1,1596.7 2845.5,724.4 2702.5,752.6 2559.4,719.5 2416.3,720.3 2273.2,709.3 2130.1,676.9 1987.1,639.5 1844.0,627.2 1700.9,625.2 1557.8,624.2 1414.7,627.4 1271.7,612.1 1128.6,575.9 985.5,552.3 842.4,516.4 699.3,519.0 556.3,540.8 413.2,561.0 270.1,580.7"/>
<polygon fill="#D277FF" points="267.5,1596.7 270.1,580.7 413.2,561.0 556.3,540.8 699.3,519.0 842.4,516.4 985.5,552.3 1128.6,575.9 1271.7,612.1 1414.7,627.4 1557.8,624.2 1700.9,625.2 1844.0,627.2 1987.1,639.5 2130.1,676.9 2273.2,709.3 2416.3,720.3 2559.4,719.5 2702.5,752.6 2845.5,724.4 2848.1,1596.7 2845.5,724.7 2702.5,752.9 2559.4,719.8 2416.3,720.5 2273.2,709.5 2130.1,677.2 1987.1,639.8 1844.0,627.5 1700.9,625.5 1557.8,624.5 1414.7,627.6 1271.7,612.4 1128.6,576.2 985.5,552.6 842.4,516.7 699.3,519.3 556.3,541.1 413.2,561.3 270.1,581.0"/>
<polygon fill="#DF70F9" points="267.5,1596.7 270.1,581.0 413.2,561.3 556.3,541.1 699.3,519.3 842.4,516.7 985.5,552.6 1128.6,576.2 1271.7,612.4 1414.7,627.6 1557.8,624.5 1700.9,625.5 1844.0,627.5 1987.1,639.8 2130.1,677.2 2273.2,709.5 2416.3,720.5 2559.4,719.8 2702.5,752.9 2845.5,724.7 2848.1,1596.7 2845.5,726.4 2702.5,754.5 2559.4,721.5 2416.3,722.2 2273.2,711.3 2130.1,679.0 1987.1,641.7 1844.0,629.3 1700.9,627.4 1557.8,626.3 1414.7,629.1 1271.7,614.3 1128.6,578.0 985.5,554.5 842.4,518.6 699.3,521.2 556.3,542.9 413.2,563.1 270.1,582.9"/>
<polygon fill="#E96AF1" points="267.5,1596.7 270.1,582.9 413.2,563.1 556.3,542.9 699.3,521.2 842.4,518.6 985.5,554.5 1128.6,578.0 1271.7,614.3 1414.7,629.1 1557.8,626.3 1700.9,627.4 1844.0,629.3 1987.1,641.7 2130.1,679.0 2273.2,711.3 2416.3,722.2 2559.4,721.5 2702.5,754.5 2845.5,726.4 2848.1,1596.7 2845.5,728.5 2702.5,756.5 2559.4,723.5 2416.3,724.2 2273.2,713.3 2130.1,681.2 1987.1,643.8 1844.0,631.5 1700.9,629.6 1557.8,628.5 1414.7,630.9 1271.7,616.4 1128.6,580.1 985.5,556.7 842.4,520.9 699.3,523.5 556.3,545.0 413.2,565.2 270.1,585.1"/>
<polygon fill="#F166E8" points="267.5,1596.7 270.1,585.1 413.2,565.2 556.3,545.0 699.3,523.5 842.4,520.9 985.5,556.7 1128.6,580.1 1271.7,616.4 1414.7,630.9 1557.8,628.5 1700.9,629.6 1844.0,631.5 1987.1,643.8 2130.1,681.2 2273.2,713.3 2416.3,724.2 2559.4,723.5 2702.5,756.5 2845.5,728.5 2848.1,1596.7 2845.5,728.9 2702.5,756.9 2559.4,723.9 2416.3,724.6 2273.2,713.8 2130.1,681.6 1987.1,644.2 1844.0,632.0 1700.9,630.1 1557.8,628.9 1414.7,631.2 1271.7,616.8 1128.6,580.6 985.5,557.2 842.4,521.4 699.3,523.9 556.3,545.5 413.2,565.7 270.1,585.6"/>
<polygon fill="#F863DE" points="267.5,1596.7 270.1,585.6 413.2,565.7 556.3,545.5 699.3,523.9 842.4,521.4 985.5,557.2 1128.6,580.6 1271.7,616.8 1414.7,631.2 1557.8,628.9 1700.9,630.1 1844.0,632.0 1987.1,644.2 2130.1,681.6 2273.2,713.8 2416.3,724.6 2559.4,723.9 2702.5,756.9 2845.5,728.9 2848.1,1596.7 2845.5,735.0 2702.5,762.6 2559.4,729.8 2416.3,730.4 2273.2,719.9 2130.1,688.1 1987.1,650.6 1844.0,638.5 1700.9,636.6 1557.8,635.4 1414.7,636.5 1271.7,623.2 1128.6,586.8 985.5,563.7 842.4,528.3 699.3,530.6 556.3,551.9 413.2,572.1 270.1,592.3"/>
<polygon fill="#FC61D3" points="267.5,1596.7 270.1,592.3 413.2,572.1 556.3,551.9 699.3,530.6 842.4,528.3 985.5,563.7 1128.6,586.8 1271.7,623.2 1414.7,636.5 1557.8,635.4 1700.9,636.6 1844.0,638.5 1987.1,650.6 2130.1,688.1 2273.2,719.9 2416.3,730.4 2559.4,729.8 2702.5,762.6 2845.5,735.0 2848.1,1596.7 2845.5,1580.4 2702.5,1580.2 2559.4,1579.9 2416.3,1579.7 2273.2,1579.5 2130.1,1579.2 1987.1,1579.0 1844.0,1578.8 1700.9,1578.5 1557.8,1578.3 1414.7,1578.3 1271.7,1578.3 1128.6,1578.3 985.5,1578.3 842.4,1578.3 699.3,1578.3 556.3,1578.3 413.2,1578.3 270.1,1578.3"/>
<polygon fill="#FF61C7" points="267.5,1596.7 270.1,1578.3 413.2,1578.3 556.3,1578.3 699.3,1578.3 842.4,1578.3 985.5,1578.3 1128.6,1578.3 1271.7,1578.3 1414.7,1578.3 1557.8,1578.3 1700.9,1578.5 1844.0,1578.8 1987.1,1579.0 2130.1,1579.2 2273.2,1579.5 2416.3,1579.7 2559.4,1579.9 2702.5,1580.2 2845.5,1580.4 2848.1,1596.7 2845.5,1580.7 2702.5,1580.4 2559.4,1580.2 2416.3,1580.0 2273.2,1579.7 2130.1,1579.5 1987.1,1579.3 1844.0,1579.1 1700.9,1578.8 1557.8,1578.6 1414.7,1578.6 1271.7,1578.6 1128.6,1578.6 985.5,1578.6 842.4,1578.6 699.3,1578.6 556.3,1578.6 413.2,1578.6 270.1,1578.6"/>
<polygon fill="#FF62BA" points="267.5,1596.7 270.1,1578.6 413.2,1578.6 556.3,1578.6 699.3,1578.6 842.4,1578.6 985.5,1578.6 1128.6,1578.6 1271.7,1578.6 1414.7,1578.6 1557.8,1578.6 1700.9,1578.8 1844.0,1579.1 1987.1,1579.3 2130.1,1579.5 2273.2,1579.7 2416.3,1580.0 2559.4,1580.2 2702.5,1580.4 2845.5,1580.7 2848.1,1596.7 2845.5,1585.8 2702.5,1585.7 2559.4,1585.5 2416.3,1585.4 2273.2,1585.2 2130.1,1585.1 1987.1,1584.9 1844.0,1584.7 1700.9,1584.6 1557.8,1584.4 1414.7,1584.4 1271.7,1584.4 1128.6,1584.4 985.5,1584.4 842.4,1584.4 699.3,1584.4 556.3,1584.4 413.2,1584.4 270.1,1584.4"/>
<polygon fill="#FF65AD" points="267.5,1596.7 270.1,1584.4 413.2,1584.4 556.3,1584.4 699.3,1584.4 842.4,1584.4 985.5,1584.4 1128.6,1584.4 1271.7,1584.4 1414.7,1584.4 1557.8,1584.4 1700.9,1584.6 1844.0,1584.7 1987.1,1584.9 2130.1,1585.1 2273.2,1585.2 2416.3,1585.4 2559.4,1585.5 2702.5,1585.7 2845.5,1585.8 2848.1,1596.7 2845.5,1590.6 2702.5,1590.5 2559.4,1590.4 2416.3,1590.3 2273.2,1590.2 2130.1,1590.1 1987.1,1590.0 1844.0,1590.0 1700.9,1589.9 1557.8,1589.8 1414.7,1589.8 1271.7,1589.8 1128.6,1589.8 985.5,1589.8 842.4,1589.8 699.3,1589.8 556.3,1589.8 413.2,1589.8 270.1,1589.8"/>
<polygon fill="#FF689E" points="267.5,1596.7 270.1,1589.8 413.2,1589.8 556.3,1589.8 699.3,1589.8 842.4,1589.8 985.5,1589.8 1128.6,1589.8 1271.7,1589.8 1414.7,1589.8 1557.8,1589.8 1700.9,1589.9 1844.0,1590.0 1987.1,1590.0 2130.1,1590.1 2273.2,1590.2 2416.3,1590.3 2559.4,1590.4 2702.5,1590.5 2845.5,1590.6 2848.1,1596.7 2845.5,1590.8 2702.5,1590.7 2559.4,1590.7 2416.3,1590.6 2273.2,1590.5 2130.1,1590.4 1987.1,1590.3 1844.0,1590.2 1700.9,1590.2 1557.8,1590.1 1414.7,1590.1 1271.7,1590.1 1128.6,1590.1 985.5,1590.1 842.4,1590.1 699.3,1590.1 556.3,1590.1 413.2,1590.1 270.1,1590.1"/>
<polygon fill="#FF6D8F" points="267.5,1596.7 270.1,1590.1 413.2,1590.1 556.3,1590.1 699.3,1590.1 842.4,1590.1 985.5,1590.1 1128.6,1590.1 1271.7,1590.1 1414.7,1590.1 1557.8,1590.1 1700.9,1590.2 1844.0,1590.2 1987.1,1590.3 2130.1,1590.4 2273.2,1590.5 2416.3,1590.6 2559.4,1590.7 2702.5,1590.7 2845.5,1590.8 2848.1,1596.7 2845.5,1594.7 2702.5,1594.7 2559.4,1594.6 2416.3,1594.6 2273.2,1594.6 2130.1,1594.5 1987.1,1594.5 1844.0,1594.5 1700.9,1594.5 1557.8,1594.4 1414.7,1594.4 1271.7,1594.4 1128.6,1594.4 985.5,1594.4 842.4,1594.4 699.3,1594.4 556.3,1594.4 413.2,1594.4 270.1,1594.4"/>
<polygon fill="#FC717F" points="267.5,1596.7 270.1,1594.4 413.2,1594.4 556.3,1594.4 699.3,1594.4 842.4,1594.4 985.5,1594.4 1128.6,1594.4 1271.7,1594.4 1414.7,1594.4 1557.8,1594.4 1700.9,1594.5 1844.0,1594.5 1987.1,1594.5 2130.1,1594.5 2273.2,1594.6 2416.3,1594.6 2559.4,1594.6 2702.5,1594.7 2845.5,1594.7 2848.1,1596.7 2845.5,1596.7 2702.5,1596.7 2559.4,1596.7 2416.3,1596.7 2273.2,1596.7 2130.1,1596.7 1987.1,1596.7 1844.0,1596.7 1700.9,1596.7 1557.8,1596.7 1414.7,1596.7 1271.7,1596.7 1128.6,1596.7 985.5,1596.7 842.4,1596.7 699.3,1596.7 556.3,1596.7 413.2,1596.7 270.1,1596.7"/>
</g>
<text class="lb" x="1557.8" y="319.1">Alabama</text>
<text class="lb" x="1557.8" y="359.2">Arkansas</text>
<text class="lb" x="1557.8" y="391.3">California</text>
<text class="lb" x="1557.8" y="431.4">Colorado</text>
<text class="lb" x="1557.8" y="456.6">Idaho</text>
<text class="lb" x="1557.8" y="482.1">Montana</text>
<text class="lb" x="1557.8" y="547.0">Nevada</text>
<text class="lb" x="1557.8" y="610.8">New Hampshire</text>
<text class="lb" x="1557.8" y="637.2">South Carolina</text>
<text class="lb" x="1557.8" y="1118.9">Utah</text>
<text class="lb" x="1557.8" y="1590.8">Vermont</text>
<g stroke="#333333" stroke-width="4.45" fill="none">
<line x1="126.90" x2="139" y1="1596.70" y2="1596.70"/>
<line x1="126.90" x2="139" y1="1194.79" y2="1194.79"/>
<line x1="126.90" x2="139" y1="792.88" y2="792.88"/>
<line x1="126.90" x2="139" y1="390.97" y2="390.97"/>
<line y1="1668" y2="1679.90" x1="270.10" x2="270.10"/>
<line y1="1668" y2="1679.90" x1="985.50" x2="985.50"/>
<line y1="1668" y2="1679.90" x1="1700.90" x2="1700.90"/>
<line y1="1668" y2="1679.90" x1="2416.30" x2="2416.30"/>
</g>
<text class="tk" text-anchor="end" x="117.3" y="1610.2">0</text>
<text class="tk" text-anchor="end" x="117.3" y="1208.3">30</text>
<text class="tk" text-anchor="end" x="117.3" y="806.4">60</text>
<text class="tk" text-anchor="end" x="117.3" y="404.5">90</text>
<text class="tk" text-anchor="middle" x="270.1" y="1715.5">0</text>
<text class="tk" text-anchor="middle" x="985.5" y="1715.5">5</text>
<text class="tk" text-anchor="middle" x="1700.9" y="1715.5">10</text>
<text class="tk" text-anchor="middle" x="2416.3" y="1715.5">15</text>
<text class="ax" text-anchor="middle" x="1558" y="1767.2">Years in the future</text>
<text class="ax" text-anchor="middle" transform="translate(56,883) rotate(-90)">Percentage of current college US population</text>
<text class="ti" x="138" y="63">US enrollment if trends continue is 86% of current US enrollment</text>
</svg>
</body></html>
